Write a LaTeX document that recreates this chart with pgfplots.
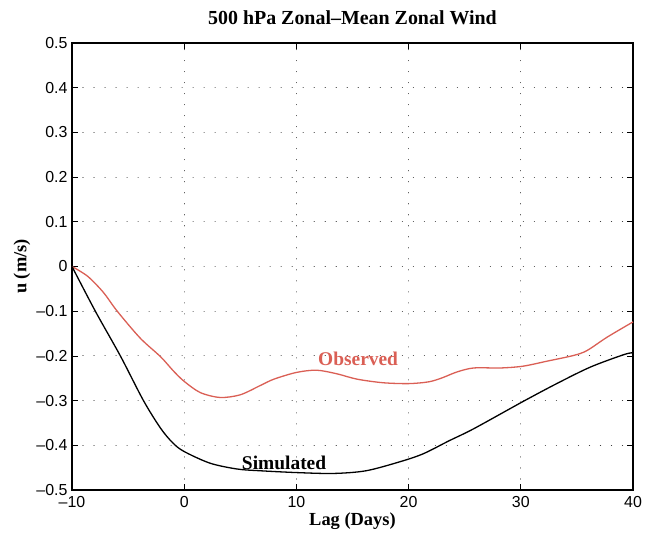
\documentclass[border=0pt]{standalone}
\usepackage{fontspec}
\setmainfont{Liberation Serif}
\newfontfamily\ticksfont{Liberation Sans}
\usepackage{pgfplots}
\pgfplotsset{compat=1.18}
\definecolor{obsred}{RGB}{218,95,85}
\begin{document}
\begin{tikzpicture}
\begin{axis}[
  scale only axis,
  width=561bp, height=447bp,
  xmin=-10, xmax=40, ymin=-0.5, ymax=0.5,
  xtick={-10,0,10,20,30,40},
  ytick={-0.5,-0.4,-0.3,-0.2,-0.1,0,0.1,0.2,0.3,0.4,0.5},
  xticklabels={\textendash10,0,10,20,30,40},
  yticklabels={\textendash0.5,\textendash0.4,\textendash0.3,\textendash0.2,\textendash0.1,0,0.1,0.2,0.3,0.4,0.5},
  ticklabel style={font=\fontsize{16}{18}\selectfont\ticksfont},
  xticklabel style={yshift=-3bp},
  yticklabel style={xshift=-1bp},
  tick align=inside, major tick length=6bp,
  tick style={black, line width=0.8bp},
  xtick pos=both, ytick pos=both,
  grid=major,
  major grid style={black!75, line width=1.1bp, dash pattern=on 0.01bp off 11bp, line cap=round},
  axis line style={line width=1.2bp},
  title={\bfseries 500 hPa Zonal\textendash Mean Zonal Wind},
  title style={font=\fontsize{20}{22}\selectfont, at={(axis description cs:0.5,1)}, anchor=base, yshift=13bp},
  xlabel={\bfseries Lag (Days)},
  ylabel={\bfseries u (m/s)},
  label style={font=\fontsize{18.5}{20}\selectfont},
  xlabel style={at={(axis description cs:0.5,0)}, anchor=base, yshift=-35bp},
  ylabel style={at={(axis description cs:-0.089,0.5)}, anchor=center},
  clip=false,
]
\addplot[obsred, line width=1.3bp, smooth, tension=0.5] coordinates {
(-10,0) (-8.6,-0.022) (-7.2,-0.058) (-6.0,-0.099) (-3.93,-0.160) (-2.1,-0.202) (-0.95,-0.234)
(0,-0.257) (1.43,-0.282) (3.2,-0.293) (5.0,-0.287) (6.8,-0.266) (8.0,-0.252)
(10,-0.237) (11.8,-0.232) (13.6,-0.24) (15.4,-0.252) (17.7,-0.26) (20,-0.262)
(21.8,-0.258) (23.0,-0.249) (24.3,-0.236) (25.8,-0.227) (28.2,-0.227) (30.2,-0.223)
(32.3,-0.212) (34.7,-0.199) (35.9,-0.188) (37.7,-0.158) (40,-0.124)
};
\addplot[black, line width=1.3bp, smooth, tension=0.5] coordinates {
(-10,0) (-7.92,-0.1) (-5.69,-0.2) (-3.63,-0.3) (-2.1,-0.362) (-1,-0.395)
(0,-0.414) (2.3,-0.440) (4.7,-0.453) (6.8,-0.457) (10,-0.461) (13.3,-0.463)
(16.2,-0.457) (19.2,-0.437) (21.3,-0.419) (23.6,-0.39) (25.8,-0.363) (30.2,-0.302)
(33.2,-0.262) (36.2,-0.225) (39.2,-0.197) (40,-0.193)
};
\node[obsred, font=\fontsize{19.5}{21}\selectfont\bfseries] at (axis cs:15.5,-0.207) {Observed};
\node[black, font=\fontsize{19.5}{21}\selectfont\bfseries] at (axis cs:8.9,-0.440) {Simulated};
\end{axis}
\path (current axis.south west) ++(-72bp,-47bp) rectangle ++(647bp,537bp);
\end{tikzpicture}
\end{document}
